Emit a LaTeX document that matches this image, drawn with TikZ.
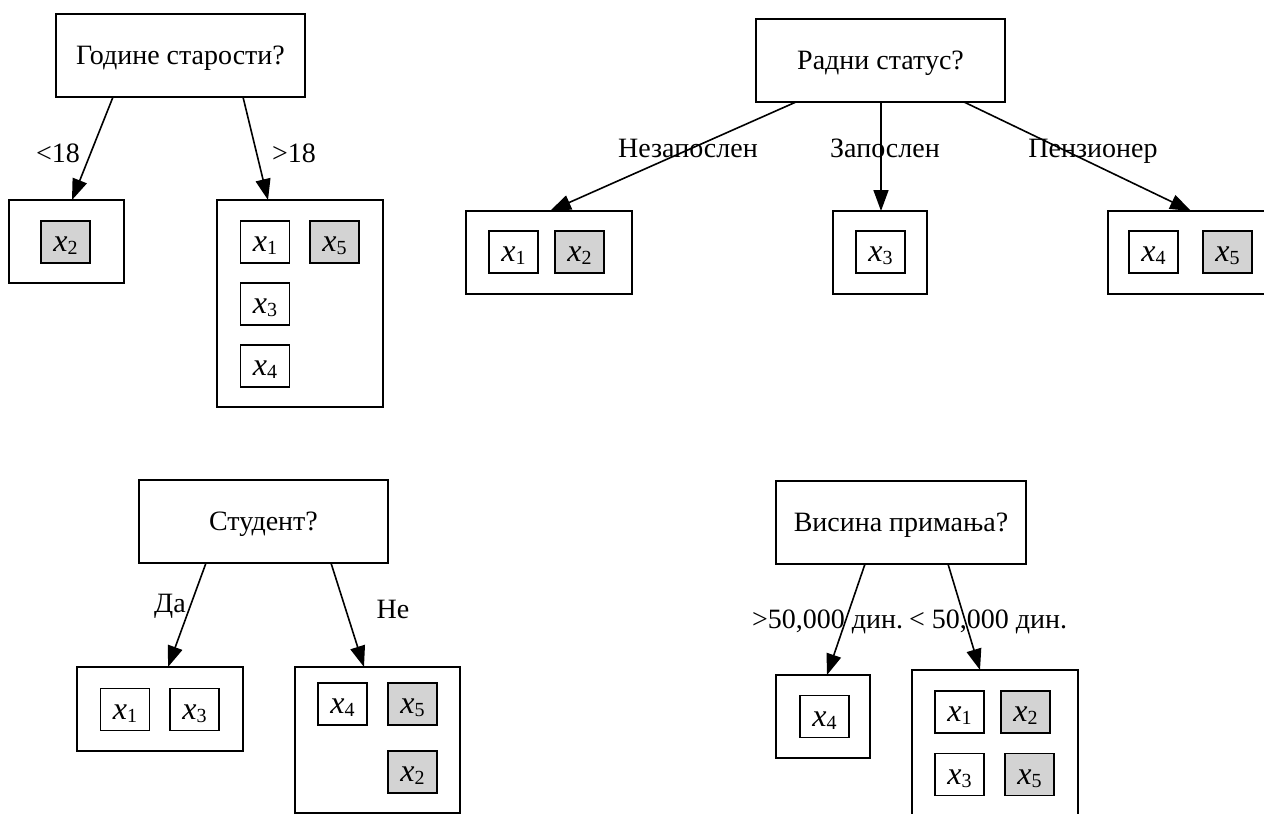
\documentclass[tikz,border=0pt]{standalone}
\usepackage{fontspec}
\setmainfont{Liberation Serif}
\usetikzlibrary{arrows.meta,calc}
\definecolor{hitgrey}{HTML}{D3D3D3}
% an item label: italic x with a lowered index
\newcommand\xsub[1]{{\fontsize{16}{18}\selectfont\textit{x}\raisebox{-1.5pt}{\fontsize{10}{12}\selectfont #1}}}
\begin{document}
\begin{tikzpicture}[x=0.5pt,y=-0.5pt,
  txt/.style={font=\fontsize{14}{16}\selectfont},
  question/.style={txt,draw,line width=0.8pt,inner sep=0pt,outer sep=0pt,
    minimum width=124.5pt,minimum height=41.5pt,text height=9.2pt,text depth=0pt},
  group/.style={draw,line width=0.8pt,inner sep=0pt,outer sep=0pt},
  item/.style={draw,line width=0.8pt,inner sep=0pt,outer sep=0pt,
    minimum width=24.5pt,minimum height=21pt,text height=9.6pt,text depth=0pt},
  hit/.style={item,fill=hitgrey},
  branch/.style={txt,anchor=base,inner sep=0pt},
  edge/.style={line width=0.8pt,-{Triangle[length=10.5pt,width=7.5pt]}}]
\useasboundingbox (0,0) rectangle (1264,814);
\clip (0,0) rectangle (1264,814);
\fill[white] (0,0) rectangle (1264,814);

% ---- split by age ----
\node[question] (r1) at (180.5,55.5) {Године старости?};
\node[group,minimum width=57.5pt,minimum height=41.5pt] (c1a) at (66.5,241.5) {};
\node[hit] (t1x2) at (65.5,242) {\xsub{2}};
\node[group,minimum width=83pt,minimum height=103.5pt] (c1b) at (300,303.5) {};
\node[item] (t1x1) at (265,242) {\xsub{1}};
\node[hit]  (t1x5) at (334.5,242) {\xsub{5}};
\node[item] (t1x3) at (265,304) {\xsub{3}};
\node[item] (t1x4) at (265,366) {\xsub{4}};
\draw[edge] ($(r1.south west)+(57,0)$) -- ($(c1a.north west)+(63,0)$);
\draw[edge] ($(r1.south west)+(187,0)$) -- ($(c1b.north west)+(51,0)$);
\node[branch] (l1a) at (58,162) {<18};
\node[branch] (l1b) at (294,162) {>18};

% ---- split by employment status ----
\node[question] (r2) at (880.5,60.5) {Радни статус?};
\node[group,minimum width=83pt,minimum height=41.5pt] (c2a) at (549,252.5) {};
\node[item] (t2x1) at (513.5,252) {\xsub{1}};
\node[hit]  (t2x2) at (579.5,252) {\xsub{2}};
\node[group,minimum width=47pt,minimum height=41.5pt] (c2b) at (880,252.5) {};
\node[item] (t2x3) at (880.5,252) {\xsub{3}};
\node[group,minimum width=83pt,minimum height=41.5pt] (c2c) at (1191,252.5) {};
\node[item] (t2x4) at (1153.5,252) {\xsub{4}};
\node[hit]  (t2x5) at (1227.5,252) {\xsub{5}};
\draw[edge] ($(r2.south west)+(40,0)$) -- ($(c2a.north west)+(84,0)$);
\draw[edge] ($(r2.south west)+(125,0)$) -- ($(c2b.north west)+(48,0)$);
\draw[edge] ($(r2.south west)+(208,0)$) -- ($(c2c.north west)+(83,0)$);
\node[branch] (l2a) at (688,157) {Незапослен};
\node[branch] (l2b) at (885,157) {Запослен};
\node[branch] (l2c) at (1093,157) {Пензионер};

% ---- split by student ----
\node[question] (r3) at (263.5,521.5) {Студент?};
\node[group,minimum width=83pt,minimum height=42pt] (c3a) at (160,709) {};
\node[item] (t3x1) at (125,709.5) {\xsub{1}};
\node[item] (t3x3) at (194.5,709.5) {\xsub{3}};
\node[group,minimum width=82.5pt,minimum height=73pt] (c3b) at (377.5,740) {};
\node[item] (t3x4) at (342.5,704) {\xsub{4}};
\node[hit]  (t3x5) at (412.5,704) {\xsub{5}};
\node[hit]  (t3x2) at (412.5,772) {\xsub{2}};
\draw[edge] ($(r3.south west)+(67,0)$) -- ($(c3a.north west)+(91,0)$);
\draw[edge] ($(r3.south west)+(192,0)$) -- ($(c3b.north west)+(69,0)$);
\node[branch] (l3a) at (170,612) {Да};
\node[branch] (l3b) at (393,618) {Не};

% ---- split by income ----
\node[question,minimum width=125pt] (r4) at (901,522.5) {Висина примања?};
\node[group,minimum width=47pt,minimum height=41.5pt] (c4a) at (823,716.5) {};
\node[item] (t4x4) at (824.5,716.5) {\xsub{4}};
\node[group,minimum width=83pt,minimum height=73.5pt] (c4b) at (995,743.5) {};
\node[item] (t4x1) at (959.5,712) {\xsub{1}};
\node[hit]  (t4x2) at (1025.5,712) {\xsub{2}};
\node[item] (t4x3) at (959.5,774.5) {\xsub{3}};
\node[hit]  (t4x5) at (1029.5,774.5) {\xsub{5}};
\draw[edge] ($(r4.south west)+(89,0)$) -- ($(c4a.north west)+(51,0)$);
\draw[edge] ($(r4.south west)+(172,0)$) -- ($(c4b.north west)+(68,0)$);
\node[branch] (l4a) at (827.5,628) {>50,000 дин.};
\node[branch] (l4b) at (988,628) {< 50,000 дин.};
\end{tikzpicture}
\end{document}
